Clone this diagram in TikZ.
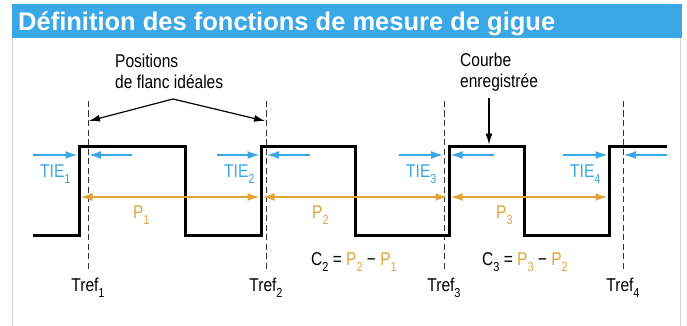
\documentclass[tikz,border=0pt]{standalone}
\usepackage{fontspec}
\setmainfont{Liberation Sans}
\newfontfamily\condfont[FakeStretch=0.84]{Liberation Sans}
\usepackage{xcolor}
\usepackage{tikz}
\usetikzlibrary{arrows.meta, calc}
\definecolor{mytitleblue}{HTML}{3AA8E6}
\definecolor{mytieblue}{HTML}{3AA6E3}
\definecolor{myperiod}{HTML}{E2A33A}
\definecolor{myframe}{HTML}{D3D6DA}
\definecolor{mydash}{HTML}{333333}
\newcommand{\sbs}[1]{\raisebox{-6pt}{\fontsize{13}{13}\selectfont #1}}
\tikzset{
titlebar/.style={
fill=mytitleblue,
draw=none
},
titletext/.style={
font=\fontsize{25.5}{28}\selectfont\bfseries,
text=white,
inner sep=0pt
},
labeltext/.style={
font=\condfont\fontsize{18.5}{21}\selectfont,
inner sep=0pt,
align=left
},
frameline/.style={
draw=myframe,
line width=1.5pt
},
refline/.style={
draw=mydash,
dash pattern=on 6pt off 3.5pt,
line width=0.9pt
},
signal/.style={
draw=black,
line width=3pt,
line join=miter
},
tiearrow/.style={
-{Latex[length=12pt,width=8pt]},
line width=1.4pt,
draw=mytieblue
},
periodarrow/.style={
{Latex[length=12pt,width=8pt]}-{Latex[length=12pt,width=8pt]},
line width=1.8pt,
draw=myperiod
},
callout/.style={
-{Latex[length=11pt,width=7pt]},
line width=1.2pt,
draw=black
}
}

\begin{document}
\begin{tikzpicture}[x=1pt, y=-1pt]
\useasboundingbox (0,0) rectangle (687,326);

% frame and title
\fill[titlebar] (12,4) rectangle (682,38);
\draw[frameline] (12.5,38) -- (12.5,326);
\draw[frameline] (680.5,38) -- (680.5,326);
\node[titletext, anchor=base west] (title) at (18,31) {Définition des fonctions de mesure de gigue};

% ideal edge positions
\foreach \i/\x in {1/88, 2/266, 3/444, 4/623} {
  \draw[refline] (\x,101) coordinate (reftop\i) -- (\x,270) coordinate (refbot\i);
  \node[labeltext, anchor=base] (tref\i) at ($(refbot\i)+(0,21)$) {Tref\sbs{\i}};
}

% recorded curve
\draw[signal] (33,235) -| (79,146) -| (185,235) -| (261,146) -| (355,235)
  -| (449,146) -| (524,235) -| (609,146) -- (667,146);

% time interval errors
\foreach \i/\l/\a/\b/\r in {1/33/77.5/89/132, 2/217/259.5/267/310,
                            3/399/443/450.5/494, 4/563/607.5/624/667} {
  \coordinate (tieL\i) at (\l,155);
  \coordinate (tieA\i) at (\a,155);
  \coordinate (tieB\i) at (\b,155);
  \coordinate (tieR\i) at (\r,155);
  \draw[tiearrow] (tieL\i) -- (tieA\i);
  \draw[tiearrow] (tieR\i) -- (tieB\i);
  \node[labeltext, text=mytieblue, anchor=base west] (tie\i) at ($(tieL\i)+(7,22)$) {TIE\sbs{\i}};
}

% periods
\foreach \i/\a/\b/\lx in {1/80.5/259.5/133, 2/262.5/447.5/312, 3/450.5/607.5/496} {
  \coordinate (pstart\i) at (\a,197);
  \coordinate (pend\i) at (\b,197);
  \draw[periodarrow] (pstart\i) -- (pend\i);
  \node[labeltext, text=myperiod, anchor=base west] (plabel\i) at (\lx,218) {P\sbs{\i}};
}

% cycle to cycle
\node[labeltext, anchor=base west] (ctwo) at (311,265)
  {C\sbs{2} = \textcolor{myperiod}{P\sbs{2}} − \textcolor{myperiod}{P\sbs{1}}};
\node[labeltext, anchor=base west] (cthree) at (482,265)
  {C\sbs{3} = \textcolor{myperiod}{P\sbs{3}} − \textcolor{myperiod}{P\sbs{2}}};

% callouts
\node[labeltext, anchor=north west] (ideal) at (115,54) {Positions\\de flanc idéales};
\coordinate (apex) at (173,99);
\coordinate (tipone) at (89,121);
\coordinate (tiptwo) at (265,121);
\draw[callout] (apex) -- (tipone);
\draw[callout] (apex) -- (tiptwo);

\node[labeltext, anchor=north west] (courbe) at (460,53) {Courbe\\enregistrée};
\coordinate (cstart) at (489,98);
\coordinate (cend) at (489,144.5);
\draw[callout] (cstart) -- (cend);

\end{tikzpicture}
\end{document}
